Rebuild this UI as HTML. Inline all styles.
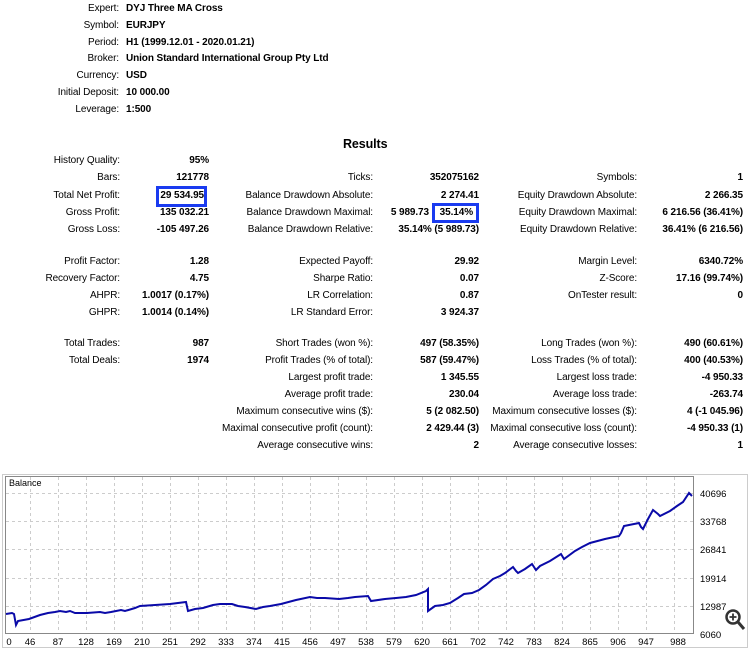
<!DOCTYPE html>
<html><head><meta charset="utf-8"><style>
body{margin:0;width:750px;height:648px;background:#fff;position:relative;overflow:hidden;font-family:"Liberation Sans",sans-serif;font-size:10px;color:#000}
.t{position:absolute;line-height:14px;white-space:nowrap;letter-spacing:-0.1px}
.b{font-weight:bold}
.box{position:absolute;border:3px solid #1a3bf0}
</style></head><body>
<div class="t" style="right:631px;top:2px">Expert:</div><div class="t b" style="left:126px;top:2px">DYJ Three MA Cross</div>
<div class="t" style="right:631px;top:19px">Symbol:</div><div class="t b" style="left:126px;top:19px">EURJPY</div>
<div class="t" style="right:631px;top:36px">Period:</div><div class="t b" style="left:126px;top:36px">H1 (1999.12.01 - 2020.01.21)</div>
<div class="t" style="right:631px;top:52px">Broker:</div><div class="t b" style="left:126px;top:52px">Union Standard International Group Pty Ltd</div>
<div class="t" style="right:631px;top:69px">Currency:</div><div class="t b" style="left:126px;top:69px">USD</div>
<div class="t" style="right:631px;top:86px">Initial Deposit:</div><div class="t b" style="left:126px;top:86px">10 000.00</div>
<div class="t" style="right:631px;top:103px">Leverage:</div><div class="t b" style="left:126px;top:103px">1:500</div>
<div class="t b" style="left:343px;top:137px;font-size:12.5px">Results</div>

<div class="t" style="right:630px;top:154px">History Quality:</div><div class="t b" style="right:541px;top:154px">95%</div>
<div class="t" style="right:630px;top:171px">Bars:</div><div class="t b" style="right:541px;top:171px">121778</div>
<div class="t" style="right:377px;top:171px">Ticks:</div><div class="t b" style="right:271px;top:171px">352075162</div>
<div class="t" style="right:113px;top:171px">Symbols:</div><div class="t b" style="right:7px;top:171px">1</div>
<div class="t" style="right:630px;top:189px">Total Net Profit:</div><div class="t b" style="right:546px;top:189px">29 534.95</div>
<div class="box" style="left:156px;top:186px;width:45px;height:15px"></div>
<div class="t" style="right:377px;top:189px">Balance Drawdown Absolute:</div><div class="t b" style="right:271px;top:189px">2 274.41</div>
<div class="t" style="right:113px;top:189px">Equity Drawdown Absolute:</div><div class="t b" style="right:7px;top:189px">2 266.35</div>
<div class="t" style="right:630px;top:206px">Gross Profit:</div><div class="t b" style="right:541px;top:206px">135 032.21</div>
<div class="t" style="right:377px;top:206px">Balance Drawdown Maximal:</div><div class="t b" style="right:321px;top:206px">5 989.73</div><div class="t b" style="right:277px;top:206px">35.14%</div>
<div class="box" style="left:432px;top:203px;width:41px;height:14px"></div>
<div class="t" style="right:113px;top:206px">Equity Drawdown Maximal:</div><div class="t b" style="right:7px;top:206px">6 216.56 (36.41%)</div>
<div class="t" style="right:630px;top:223px">Gross Loss:</div><div class="t b" style="right:541px;top:223px">-105 497.26</div>
<div class="t" style="right:377px;top:223px">Balance Drawdown Relative:</div><div class="t b" style="right:271px;top:223px">35.14% (5 989.73)</div>
<div class="t" style="right:113px;top:223px">Equity Drawdown Relative:</div><div class="t b" style="right:7px;top:223px">36.41% (6 216.56)</div>

<div class="t" style="right:630px;top:255px">Profit Factor:</div><div class="t b" style="right:541px;top:255px">1.28</div>
<div class="t" style="right:377px;top:255px">Expected Payoff:</div><div class="t b" style="right:271px;top:255px">29.92</div>
<div class="t" style="right:113px;top:255px">Margin Level:</div><div class="t b" style="right:7px;top:255px">6340.72%</div>
<div class="t" style="right:630px;top:272px">Recovery Factor:</div><div class="t b" style="right:541px;top:272px">4.75</div>
<div class="t" style="right:377px;top:272px">Sharpe Ratio:</div><div class="t b" style="right:271px;top:272px">0.07</div>
<div class="t" style="right:113px;top:272px">Z-Score:</div><div class="t b" style="right:7px;top:272px">17.16 (99.74%)</div>
<div class="t" style="right:630px;top:289px">AHPR:</div><div class="t b" style="right:541px;top:289px">1.0017 (0.17%)</div>
<div class="t" style="right:377px;top:289px">LR Correlation:</div><div class="t b" style="right:271px;top:289px">0.87</div>
<div class="t" style="right:113px;top:289px">OnTester result:</div><div class="t b" style="right:7px;top:289px">0</div>
<div class="t" style="right:630px;top:306px">GHPR:</div><div class="t b" style="right:541px;top:306px">1.0014 (0.14%)</div>
<div class="t" style="right:377px;top:306px">LR Standard Error:</div><div class="t b" style="right:271px;top:306px">3 924.37</div>

<div class="t" style="right:630px;top:337px">Total Trades:</div><div class="t b" style="right:541px;top:337px">987</div>
<div class="t" style="right:377px;top:337px">Short Trades (won %):</div><div class="t b" style="right:271px;top:337px">497 (58.35%)</div>
<div class="t" style="right:113px;top:337px">Long Trades (won %):</div><div class="t b" style="right:7px;top:337px">490 (60.61%)</div>
<div class="t" style="right:630px;top:354px">Total Deals:</div><div class="t b" style="right:541px;top:354px">1974</div>
<div class="t" style="right:377px;top:354px">Profit Trades (% of total):</div><div class="t b" style="right:271px;top:354px">587 (59.47%)</div>
<div class="t" style="right:113px;top:354px">Loss Trades (% of total):</div><div class="t b" style="right:7px;top:354px">400 (40.53%)</div>
<div class="t" style="right:377px;top:371px">Largest profit trade:</div><div class="t b" style="right:271px;top:371px">1 345.55</div>
<div class="t" style="right:113px;top:371px">Largest loss trade:</div><div class="t b" style="right:7px;top:371px">-4 950.33</div>
<div class="t" style="right:377px;top:388px">Average profit trade:</div><div class="t b" style="right:271px;top:388px">230.04</div>
<div class="t" style="right:113px;top:388px">Average loss trade:</div><div class="t b" style="right:7px;top:388px">-263.74</div>
<div class="t" style="right:377px;top:405px">Maximum consecutive wins ($):</div><div class="t b" style="right:271px;top:405px">5 (2 082.50)</div>
<div class="t" style="right:113px;top:405px">Maximum consecutive losses ($):</div><div class="t b" style="right:7px;top:405px">4 (-1 045.96)</div>
<div class="t" style="right:377px;top:422px">Maximal consecutive profit (count):</div><div class="t b" style="right:271px;top:422px">2 429.44 (3)</div>
<div class="t" style="right:113px;top:422px">Maximal consecutive loss (count):</div><div class="t b" style="right:7px;top:422px">-4 950.33 (1)</div>
<div class="t" style="right:377px;top:439px">Average consecutive wins:</div><div class="t b" style="right:271px;top:439px">2</div>
<div class="t" style="right:113px;top:439px">Average consecutive losses:</div><div class="t b" style="right:7px;top:439px">1</div>

<svg style="position:absolute;left:0;top:0" width="750" height="648">
<rect x="2.5" y="474.5" width="745" height="173" fill="none" stroke="#ccc"/>
<rect x="5.5" y="476.5" width="688" height="157" fill="#fff" stroke="#888"/>
<g stroke="#ccc" stroke-dasharray="3,3" stroke-width="1">
<line x1="6" x2="693" y1="493.5" y2="493.5"/><line x1="6" x2="693" y1="521.5" y2="521.5"/><line x1="6" x2="693" y1="549.5" y2="549.5"/><line x1="6" x2="693" y1="578.5" y2="578.5"/><line x1="6" x2="693" y1="606.5" y2="606.5"/>
<line x1="30.5" x2="30.5" y1="477" y2="633"/><line x1="58.5" x2="58.5" y1="477" y2="633"/><line x1="86.5" x2="86.5" y1="477" y2="633"/><line x1="114.5" x2="114.5" y1="477" y2="633"/><line x1="142.5" x2="142.5" y1="477" y2="633"/><line x1="170.5" x2="170.5" y1="477" y2="633"/><line x1="198.5" x2="198.5" y1="477" y2="633"/><line x1="226.5" x2="226.5" y1="477" y2="633"/><line x1="254.5" x2="254.5" y1="477" y2="633"/><line x1="282.5" x2="282.5" y1="477" y2="633"/><line x1="310.5" x2="310.5" y1="477" y2="633"/><line x1="338.5" x2="338.5" y1="477" y2="633"/><line x1="366.5" x2="366.5" y1="477" y2="633"/><line x1="394.5" x2="394.5" y1="477" y2="633"/><line x1="422.5" x2="422.5" y1="477" y2="633"/><line x1="450.5" x2="450.5" y1="477" y2="633"/><line x1="478.5" x2="478.5" y1="477" y2="633"/><line x1="506.5" x2="506.5" y1="477" y2="633"/><line x1="534.5" x2="534.5" y1="477" y2="633"/><line x1="562.5" x2="562.5" y1="477" y2="633"/><line x1="590.5" x2="590.5" y1="477" y2="633"/><line x1="618.5" x2="618.5" y1="477" y2="633"/><line x1="646.5" x2="646.5" y1="477" y2="633"/><line x1="674.5" x2="674.5" y1="477" y2="633"/>
</g>
<polyline fill="none" stroke="#0a0aa8" stroke-width="2" points="6,614 12,613 14,614 16,625 18,621 29,619 40,615 48,613 55,612 60,611 66,612 70,611 75,613 87,613 100,612 105,613 111,612 121,610 125,611 135,608 140,606 155,605 170,604 186,602 188,611 195,609 203,608 213,605 220,604 232,604 238,606 245,607 256,609 263,607 270,606 281,604 296,600 310,597 317,598 325,598 339,599 348,598 355,597 368,596 371,601 385,599 396,598 406,597 416,595 426,591 428,589 428,611 435,606 443,605 450,603 458,598 464,594 472,593 479,590 486,585 493,579 500,576 505,573 513,567 516,571 518,573 525,569 532,564 536,570 540,566 550,561 561,554 564,559 575,551 582,547 590,543 605,539 619,536 621,533 624,526 634,524 639,523 641,527 643,529 648,519 653,510 658,514 660,516 670,511 677,506 683,502 689,493 692,496"/>
<g font-family="Liberation Sans,sans-serif" font-size="9.5" fill="#000">
<text x="9" y="486" font-size="9">Balance</text>
<text x="700" y="497">40696</text><text x="700" y="525">33768</text><text x="700" y="553">26841</text><text x="700" y="582">19914</text><text x="700" y="610">12987</text><text x="700" y="638">6060</text>
<g text-anchor="middle">
<text x="9" y="645">0</text><text x="30" y="645">46</text><text x="58" y="645">87</text><text x="86" y="645">128</text><text x="114" y="645">169</text><text x="142" y="645">210</text><text x="170" y="645">251</text><text x="198" y="645">292</text><text x="226" y="645">333</text><text x="254" y="645">374</text><text x="282" y="645">415</text><text x="310" y="645">456</text><text x="338" y="645">497</text><text x="366" y="645">538</text><text x="394" y="645">579</text><text x="422" y="645">620</text><text x="450" y="645">661</text><text x="478" y="645">702</text><text x="506" y="645">742</text><text x="534" y="645">783</text><text x="562" y="645">824</text><text x="590" y="645">865</text><text x="618" y="645">906</text><text x="646" y="645">947</text><text x="678" y="645">988</text>
</g></g>
<circle cx="733" cy="617" r="6.5" fill="#fff" stroke="#333" stroke-width="2.5"/>
<line x1="738" y1="622" x2="744" y2="629" stroke="#333" stroke-width="3"/>
<path d="M729.5 617h7M733 613.5v7" stroke="#333" stroke-width="1.8"/>
</svg>
</body></html>
